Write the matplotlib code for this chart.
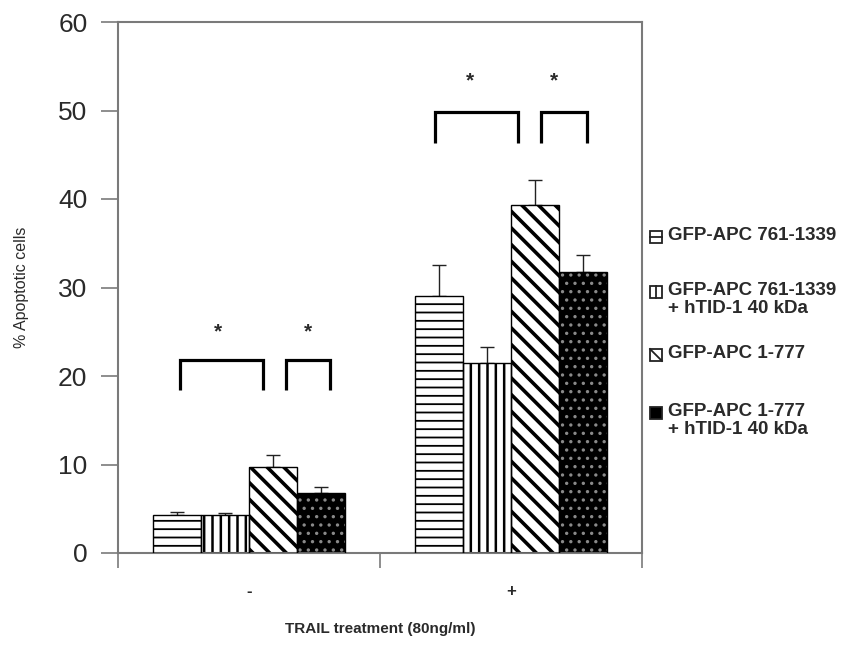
import numpy as np
import matplotlib
matplotlib.use('Agg')
import matplotlib.pyplot as plt
from matplotlib.patches import Rectangle
from matplotlib.lines import Line2D

plt.rcParams['font.family'] = ['Liberation Sans', 'DejaVu Sans']

# --------------------------------------------------------------------------
# DATA
# --------------------------------------------------------------------------
groups = ['-', '+']
series = ['GFP-APC 761-1339', 'GFP-APC 761-1339\n+ hTID-1 40 kDa',
          'GFP-APC 1-777', 'GFP-APC 1-777\n+ hTID-1 40 kDa']
means_minus = [4.3, 4.3, 9.7, 6.8]
errs_minus = [0.3, 0.2, 1.4, 0.7]
means_plus = [29.0, 21.5, 39.3, 31.8]
errs_plus = [3.5, 1.8, 2.8, 1.9]

# significance brackets: (x_left, x_right, y_top, y_bottom)
brackets = [(0.237, 0.553, 21.8, 18.4), (0.641, 0.809, 21.8, 18.4),
            (1.210, 1.527, 49.8, 46.3), (1.615, 1.790, 49.8, 46.3)]
stars_x = [0.382, 0.725, 1.344, 1.664]
stars_y = [25.0, 25.0, 53.3, 53.3]

yticks = [0, 10, 20, 30, 40, 50, 60]

# --------------------------------------------------------------------------
# STYLE
# --------------------------------------------------------------------------
hatches = ['--', '||', '\\\\', '..']
hatch_lw = [1.3, 1.8, 2.6, 1.2]
spine_col = '#7a7a7a'
text_col = '#2a2a2a'

fig = plt.figure(figsize=(8.64, 6.56), dpi=100)
ax = fig.add_axes([118 / 864, 1 - 553 / 656, (642 - 118) / 864, (553 - 22) / 656])

width = 0.184
offsets = (np.arange(4) - 1.5) * width
centers = np.array([0.5, 1.5])
all_means = np.array([means_minus, means_plus])
all_errs = np.array([errs_minus, errs_plus])


def draw_bar(ax, x, h, i):
    with plt.rc_context({'hatch.linewidth': hatch_lw[i],
                         'hatch.color': '#9a9a9a' if i == 3 else 'black'}):
        if i == 3:
            ax.bar(x, h, width, color='black', edgecolor='#8a8a8a', hatch=hatches[i],
                   linewidth=0, zorder=2)
        else:
            ax.bar(x, h, width, color='white', edgecolor='black', hatch=hatches[i],
                   linewidth=0, zorder=2)
    ax.bar(x, h, width, fill=False, edgecolor='black', linewidth=1.0, zorder=3)


for i in range(4):
    xs = centers + offsets[i]
    draw_bar(ax, xs, all_means[:, i], i)
    ax.errorbar(xs, all_means[:, i], yerr=[np.zeros(2), all_errs[:, i]], fmt='none',
                ecolor='#222222', elinewidth=1.0, capsize=5, capthick=1.0, zorder=1)

for (xl, xr, yt, yb) in brackets:
    ax.plot([xl, xl, xr, xr], [yb, yt, yt, yb], color='black', lw=2.3,
            solid_joinstyle='miter', solid_capstyle='butt', zorder=4)
for sx, sy in zip(stars_x, stars_y):
    ax.text(sx, sy, '*', ha='center', va='center', fontsize=15, fontweight='bold',
            color=text_col)

ax.set_xlim(0, 2)
ax.set_ylim(0, 60)
ax.set_yticks(yticks)
ax.set_yticklabels([str(t) for t in yticks], fontsize=19, color=text_col)
ax.set_xticks([0, 1, 2])
ax.set_xticklabels([])
ax.set_xticks(centers, minor=True)
ax.set_xticklabels(groups, minor=True, fontsize=12, fontweight='bold', color=text_col)
ax.tick_params(axis='x', which='minor', length=0, pad=22)
ax.tick_params(axis='x', which='major', direction='out', length=11, width=1.2,
               color=spine_col)
ax.tick_params(axis='y', direction='out', length=12, width=1.2, color=spine_col, pad=10)
for s in ax.spines.values():
    s.set_color(spine_col)
    s.set_linewidth(1.5)

ax.set_ylabel('% Apoptotic cells', fontsize=11.5, color=text_col)
ax.yaxis.set_label_coords(-0.17, 0.5)
ax.set_xlabel('TRAIL treatment (80ng/ml)', fontsize=11, fontweight='bold', color=text_col)
ax.xaxis.set_label_coords(0.5, -0.13)

# legend drawn by hand (uneven spacing as in the original)
leg_y = [237, 292, 355, 413]
sq = 12
for i, (lab, yy) in enumerate(zip(series, leg_y)):
    px0, py0 = 650, yy - sq / 2
    x0 = px0 / 864
    y0 = 1 - (py0 + sq) / 656
    w = sq / 864
    h = sq / 656
    p = Rectangle((x0, y0), w, h, transform=fig.transFigure,
                  facecolor='black' if i == 3 else 'white',
                  edgecolor='#222222', linewidth=1.3)
    fig.patches.append(p)
    if i == 0:
        xs_l, ys_l = [x0, x0 + w], [y0 + h / 2, y0 + h / 2]
    elif i == 1:
        xs_l, ys_l = [x0 + w / 2, x0 + w / 2], [y0, y0 + h]
    elif i == 2:
        xs_l, ys_l = [x0, x0 + w], [y0 + h, y0]
    else:
        xs_l = ys_l = None
    if xs_l is not None:
        fig.lines.append(Line2D(xs_l, ys_l, transform=fig.transFigure,
                                color='#222222', lw=1.3))
    fig.text(668 / 864, 1 - (yy - 10) / 656, lab, fontsize=13.5, fontweight='bold',
             color=text_col, ha='left', va='top', linespacing=1.1)

fig.savefig('out.png', dpi=100)
